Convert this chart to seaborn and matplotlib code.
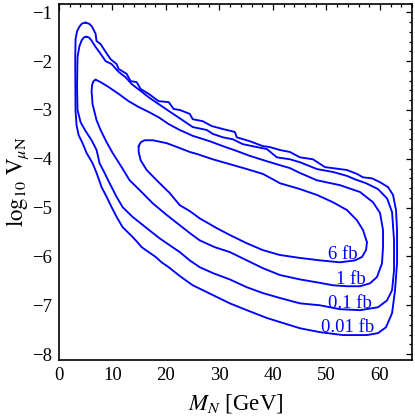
import matplotlib
matplotlib.use('Agg')
import numpy as np
import pandas as pd
import matplotlib.pyplot as plt
from matplotlib.ticker import MultipleLocator
import seaborn as sns

sns.set_theme(style='white')
plt.rcParams['font.family'] = ['Liberation Serif', 'DejaVu Serif']
plt.rcParams['mathtext.fontset'] = 'stix'

# contour lines of the cross section as (M_N, log10 V) pairs
contour_001 = [
    (4.96, -1.21), (5.71, -1.24), (6.20, -1.30), (6.84, -1.44), (7.02, -1.59), (7.77, -1.65),
    (8.71, -1.81), (9.64, -1.96), (10.77, -2.06), (11.14, -2.16), (12.64, -2.26),
    (13.39, -2.41), (14.51, -2.43), (15.26, -2.57), (16.76, -2.67), (18.63, -2.82),
    (20.51, -2.84), (21.44, -2.98), (22.57, -3.00), (24.44, -3.08), (25.00, -3.19),
    (26.87, -3.23), (28.56, -3.33), (30.62, -3.39), (32.87, -3.45), (33.24, -3.56),
    (35.67, -3.64), (38.11, -3.74), (39.42, -3.76), (41.29, -3.82), (43.16, -3.86),
    (45.04, -3.97), (47.47, -4.01), (49.72, -4.17), (53.84, -4.23), (55.71, -4.31),
    (56.84, -4.38), (58.52, -4.40), (60.02, -4.48), (61.52, -4.58), (62.45, -4.74),
    (63.01, -5.05), (63.20, -5.46), (63.20, -6.14), (62.83, -6.69), (62.27, -7.16),
    (61.14, -7.45), (59.64, -7.57), (57.58, -7.61), (53.09, -7.61), (48.78, -7.55),
    (45.04, -7.47), (38.86, -7.26), (35.11, -7.10), (31.93, -6.96), (28.75, -6.79),
    (25.00, -6.59), (22.57, -6.40), (20.51, -6.22), (19.19, -6.12), (18.07, -6.01),
    (16.76, -5.91), (15.45, -5.81), (14.51, -5.69), (13.76, -5.60), (11.89, -5.40),
    (10.77, -5.19), (9.83, -4.99), (8.90, -4.78), (7.96, -4.58), (7.02, -4.29),
    (6.27, -4.09), (5.15, -3.88), (4.40, -3.68), (3.65, -3.51), (3.28, -3.31),
    (3.09, -3.02), (3.03, -1.98), (3.09, -1.55), (3.40, -1.38), (3.84, -1.29),
    (4.30, -1.23),
]

contour_01 = [
    (5.15, -1.50), (5.65, -1.52), (6.09, -1.58), (6.84, -1.71), (7.77, -1.85), (8.71, -2.00),
    (9.83, -2.06), (11.14, -2.22), (12.45, -2.33), (13.58, -2.47), (15.26, -2.61),
    (16.76, -2.74), (18.63, -2.88), (20.51, -3.02), (22.57, -3.17), (25.00, -3.35),
    (27.62, -3.41), (28.75, -3.49), (30.62, -3.56), (32.49, -3.60), (34.36, -3.70),
    (36.99, -3.76), (38.86, -3.80), (40.73, -3.97), (43.16, -4.01), (45.04, -4.07),
    (48.22, -4.21), (51.22, -4.27), (53.84, -4.35), (55.34, -4.42), (57.40, -4.50),
    (59.64, -4.62), (61.33, -4.81), (62.27, -5.09), (62.64, -5.67), (62.64, -6.28),
    (62.27, -6.69), (61.33, -6.90), (59.64, -7.04), (56.27, -7.10), (52.53, -7.08),
    (48.78, -7.00), (45.04, -6.96), (41.29, -6.85), (38.11, -6.75), (35.11, -6.63),
    (31.93, -6.47), (28.75, -6.34), (26.31, -6.22), (24.44, -6.08), (22.57, -5.91),
    (18.82, -5.63), (16.39, -5.42), (13.76, -5.19), (11.89, -4.99), (10.77, -4.78),
    (9.46, -4.50), (8.52, -4.29), (7.58, -4.09), (7.02, -3.82), (6.09, -3.62),
    (4.96, -3.43), (4.03, -3.25), (3.46, -3.00), (3.37, -2.53), (3.46, -1.92),
    (3.80, -1.70), (4.25, -1.57), (4.70, -1.51),
]

contour_1 = [
    (6.84, -2.38), (7.77, -2.43), (9.27, -2.53), (11.14, -2.67), (13.01, -2.82),
    (14.89, -2.94), (16.76, -3.04), (18.63, -3.15), (20.51, -3.29), (22.57, -3.41),
    (25.00, -3.53), (28.18, -3.64), (30.62, -3.74), (33.24, -3.84), (35.67, -3.94),
    (38.86, -4.05), (41.29, -4.13), (43.16, -4.19), (45.04, -4.29), (48.22, -4.44),
    (52.53, -4.54), (56.27, -4.68), (58.71, -4.89), (60.02, -5.11), (60.58, -5.46),
    (60.58, -5.81), (60.39, -6.14), (59.46, -6.42), (58.15, -6.55), (56.27, -6.61),
    (53.84, -6.61), (51.22, -6.59), (48.22, -6.53), (45.04, -6.47), (41.29, -6.38),
    (38.11, -6.24), (35.11, -6.08), (31.93, -5.91), (29.12, -5.81), (26.31, -5.67),
    (24.44, -5.52), (22.57, -5.36), (20.13, -5.15), (17.51, -4.91), (15.07, -4.64),
    (13.20, -4.44), (11.70, -4.17), (10.02, -3.88), (8.90, -3.66), (7.77, -3.41),
    (7.02, -3.21), (6.27, -2.88), (6.09, -2.61), (6.20, -2.48), (6.45, -2.41),
]

contour_6 = [
    (14.89, -3.74), (15.30, -3.66), (16.00, -3.62), (17.51, -3.62), (18.82, -3.65),
    (20.13, -3.68), (22.57, -3.78), (24.44, -3.86), (25.75, -3.90), (28.75, -4.01),
    (31.93, -4.11), (35.11, -4.21), (38.11, -4.31), (39.98, -4.42), (41.29, -4.50),
    (45.04, -4.62), (48.22, -4.74), (51.22, -4.89), (53.84, -5.05), (55.71, -5.26),
    (56.84, -5.46), (57.58, -5.71), (57.40, -5.87), (56.65, -6.01), (55.34, -6.08),
    (52.53, -6.12), (48.78, -6.08), (45.04, -6.03), (41.29, -5.97), (38.11, -5.87),
    (35.11, -5.73), (31.93, -5.56), (29.49, -5.42), (26.31, -5.22), (24.44, -5.07),
    (22.57, -4.95), (20.69, -4.70), (18.26, -4.44), (16.39, -4.23), (15.26, -4.03),
    (14.89, -3.86),
]

levels = ['0.01 fb', '0.1 fb', '1 fb', '6 fb']
contours = [contour_001, contour_01, contour_1, contour_6]

# where the level labels sit
label_m = [54.0, 54.4, 54.6, 53.0]
label_v = [-7.45, -6.97, -6.48, -5.95]

# long table, each curve closed on itself
rows = []
for lev, pts in zip(levels, contours):
    pts = pts + [pts[0]]
    for i, (m, v) in enumerate(pts):
        rows.append({'level': lev, 'order': i, 'M': m, 'logV': v})
df = pd.DataFrame(rows)

fig = plt.figure(figsize=(4.15, 4.2), dpi=100)
ax = fig.add_axes([0.1422, 0.1429, 0.8506, 0.8476])

sns.lineplot(data=df, x='M', y='logV', units='level', estimator=None,
             sort=False, color='#0000ff', linewidth=1.35, ax=ax, legend=False)

for txt, m, v in zip(levels, label_m, label_v):
    ax.text(m, v, txt, color='#0000ff', fontsize=13.5, ha='center', va='center')

ax.set_xlim(0, 66)
ax.set_ylim(-8.12, -0.83)
ax.xaxis.set_major_locator(MultipleLocator(10))
ax.xaxis.set_minor_locator(MultipleLocator(2))
ax.yaxis.set_major_locator(MultipleLocator(1))
ax.yaxis.set_minor_locator(MultipleLocator(0.2))
ax.tick_params(which='both', direction='in', top=True, right=True,
               color='black', width=0.9, labelsize=13.5, labelcolor='black')
ax.tick_params(which='major', length=4.5, pad=5)
ax.tick_params(which='minor', length=2.2)
for sp in ax.spines.values():
    sp.set_color('black')
    sp.set_linewidth(1.2)

ax.set_xlabel(r'$M_N$ [GeV]', fontsize=16.5, color='black', labelpad=6)
ax.set_ylabel(r'$\log_{10}\,\mathrm{V}_{\mu \mathrm{N}}$', fontsize=16.5,
              color='black', labelpad=1)

fig.savefig('out.png', dpi=100)
